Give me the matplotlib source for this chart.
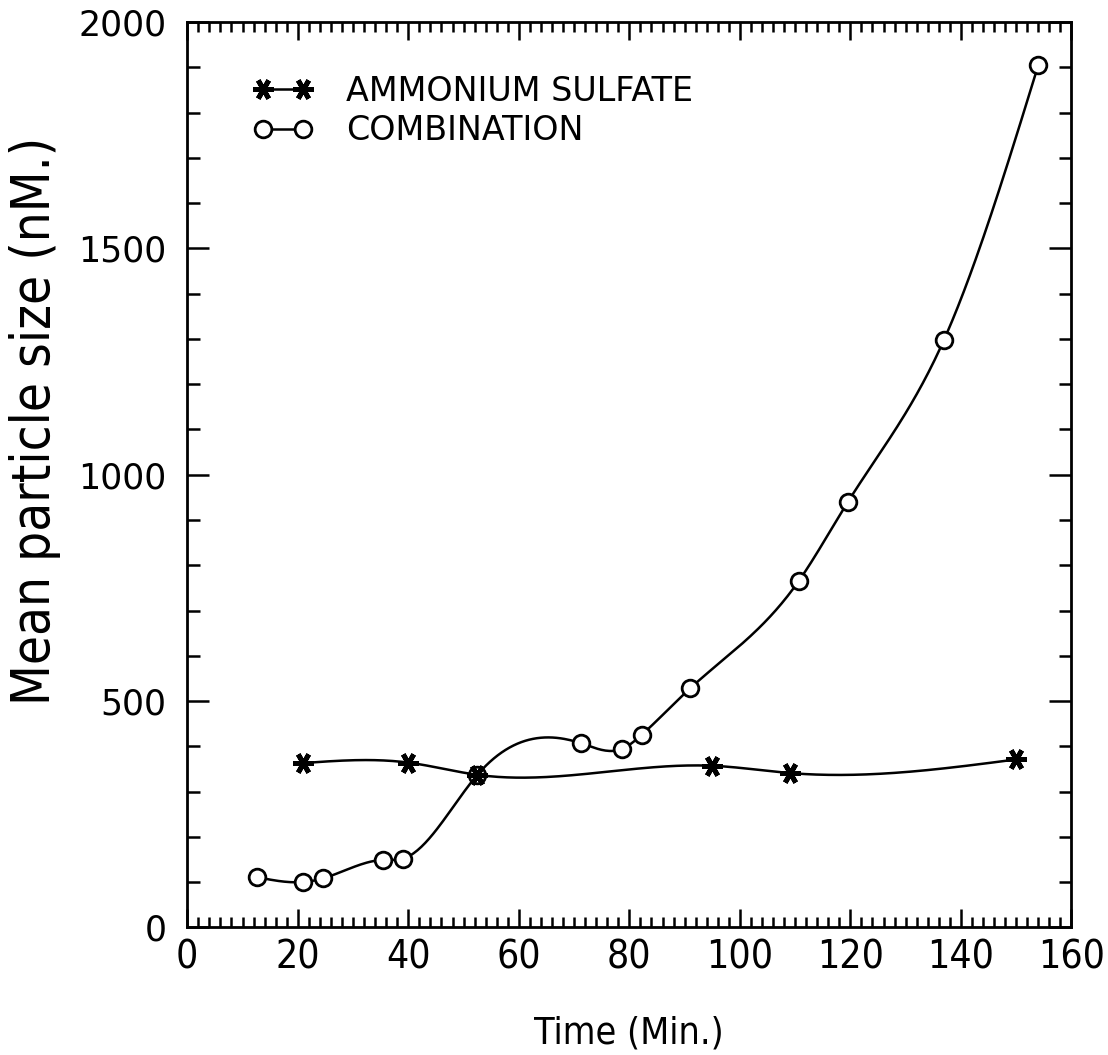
import numpy as np
import matplotlib
matplotlib.use('Agg')
from matplotlib import pyplot as plt
from matplotlib.ticker import MultipleLocator

# data
sulfate_time = [21.0, 40.0, 52.5, 95.0, 109.0, 150.0]
sulfate_size = [363, 364, 337, 357, 341, 371]

combo_time = [12.6, 20.9, 24.5, 35.4, 39.1, 52.5, 71.2, 78.6, 82.3, 91.0, 110.7, 119.5, 136.9, 154.0]
combo_size = [111, 100, 108, 149, 152, 337, 407, 394, 426, 528, 766, 939, 1297, 1905]

legend_labels = ['AMMONIUM SULFATE', 'COMBINATION']
x_ticks = [0, 20, 40, 60, 80, 100, 120, 140, 160]
y_ticks = [0, 500, 1000, 1500, 2000]

FONT = 'DejaVu Sans'


def natural_spline(x, y, num=400):
    # plain natural cubic spline, just for drawing the smooth curve
    x = np.asarray(x, float)
    y = np.asarray(y, float)
    n = len(x)
    h = np.diff(x)
    A = np.zeros((n, n))
    b = np.zeros(n)
    A[0, 0] = 1
    A[-1, -1] = 1
    for i in range(1, n - 1):
        A[i, i - 1] = h[i - 1]
        A[i, i] = 2 * (h[i - 1] + h[i])
        A[i, i + 1] = h[i]
        b[i] = 6 * ((y[i + 1] - y[i]) / h[i] - (y[i] - y[i - 1]) / h[i - 1])
    M = np.linalg.solve(A, b)
    xs = np.linspace(x[0], x[-1], num)
    k = np.clip(np.searchsorted(x, xs) - 1, 0, n - 2)
    t0 = x[k + 1] - xs
    t1 = xs - x[k]
    hk = h[k]
    ys = (M[k] * t0 ** 3 + M[k + 1] * t1 ** 3) / (6 * hk) \
        + (y[k] / hk - M[k] * hk / 6) * t0 + (y[k + 1] / hk - M[k + 1] * hk / 6) * t1
    return xs, ys


fig = plt.figure(figsize=(11.08, 10.55), dpi=100)
ax = fig.add_axes([0.169, 0.121, 0.798, 0.858])

star = (6, 2, 90)
sx, sy = natural_spline(sulfate_time, sulfate_size)
cx, cy = natural_spline(combo_time, combo_size)
ax.plot(sx, sy, color='black', lw=1.8)
ax.plot(cx, cy, color='black', lw=1.8)
ax.plot(combo_time, combo_size, ls='none', marker='o', ms=12, mew=2,
        mfc='white', mec='black')
ax.plot(sulfate_time, sulfate_size, ls='none', marker=star, ms=15, mew=3.5, color='black')

# legend handles
h1, = ax.plot([], [], color='black', lw=1.8, marker=star, ms=15, mew=3.5)
h2, = ax.plot([], [], color='black', lw=1.8, marker='o', ms=12, mew=2, mfc='white')
leg = ax.legend([h1, h2], legend_labels, loc='upper left', bbox_to_anchor=(0.04, 0.975),
                frameon=False, numpoints=2, handlelength=1.8, handletextpad=1.0,
                labelspacing=0.2, prop={'family': FONT, 'size': 24})

ax.set_xlim(0, 160)
ax.set_ylim(0, 2000)
ax.set_xticks(x_ticks)
ax.set_yticks(y_ticks)
ax.xaxis.set_minor_locator(MultipleLocator(2))
ax.yaxis.set_minor_locator(MultipleLocator(100))
ax.tick_params(which='both', direction='in', top=True, right=True, width=1.8, color='black')
ax.tick_params(axis='x', which='major', length=13, pad=8)
ax.tick_params(axis='x', which='minor', length=7)
ax.tick_params(axis='y', which='major', length=16, pad=15)
ax.tick_params(axis='y', which='minor', length=9)

for lab in ax.get_xticklabels():
    lab.set_fontfamily(FONT)
    lab.set_fontstretch('condensed')
    lab.set_fontsize(28)
for lab in ax.get_yticklabels():
    lab.set_fontfamily(FONT)
    lab.set_fontsize(25)

for sp in ax.spines.values():
    sp.set_linewidth(2)

ax.set_xlabel('Time (Min.)', family=FONT, stretch='condensed', fontsize=27, labelpad=28)
ax.set_ylabel('Mean particle size (nM.)', family=FONT, stretch='condensed', fontsize=38)
ax.yaxis.set_label_coords(-0.143, 0.56)

fig.savefig('out.png', dpi=100, facecolor='white')
